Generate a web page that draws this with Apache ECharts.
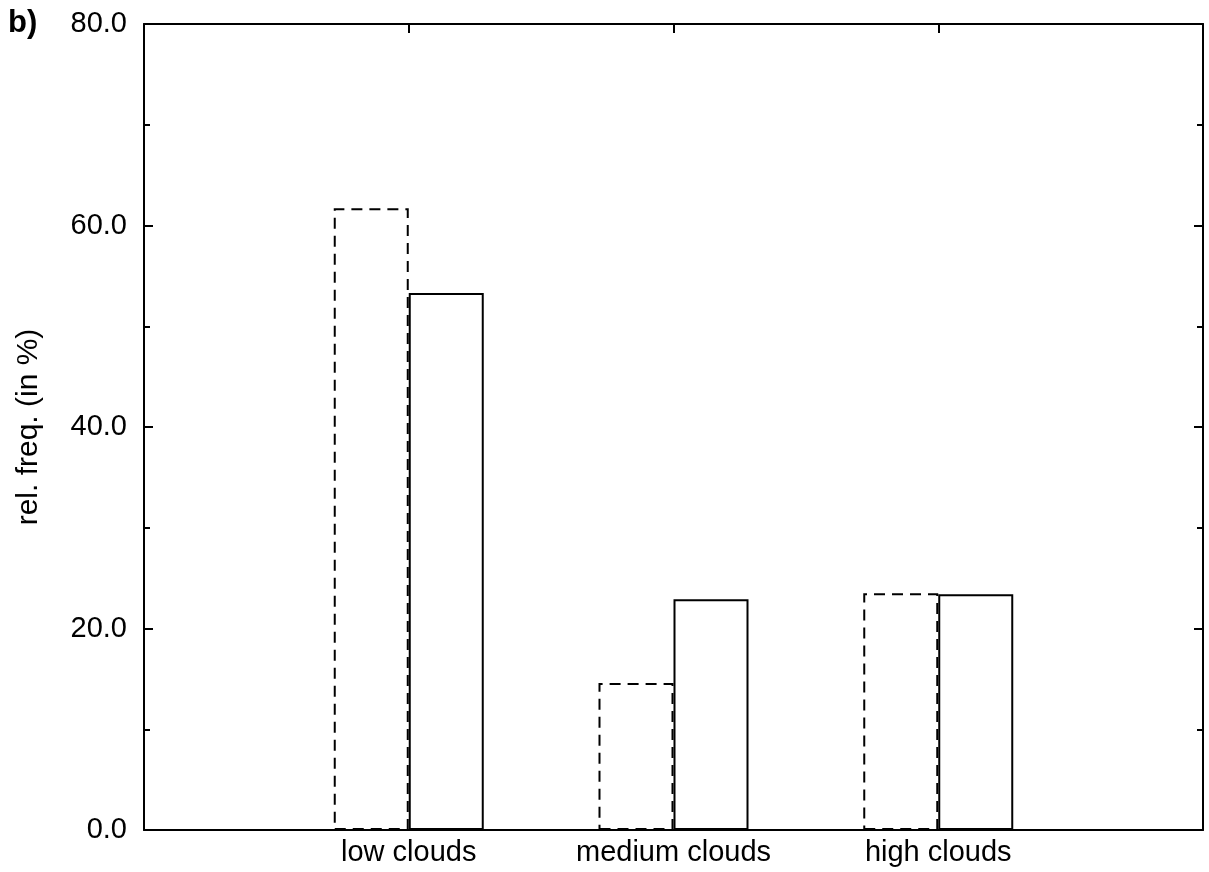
<!DOCTYPE html>
<html>
<head>
<meta charset="utf-8">
<script src="https://cdn.jsdelivr.net/npm/echarts@6/dist/echarts.min.js"></script>
<style>
html, body { margin: 0; padding: 0; background: #fff; }
#chart { width: 1209px; height: 872px; }
</style>
</head>
<body>
<div id="chart"></div>
<script>
// categories: empty slots at both ends so the three groups sit at 1/4, 2/4, 3/4 of the width
var categories = ['', 'low clouds', 'medium clouds', 'high clouds', ''];
var dashedVals = [null, 61.7, 14.6, 23.5, null];
var solidVals = [null, 53.3, 22.9, 23.4, null];
var yTicks = [0, 20, 40, 60, 80];

var font = '"Liberation Sans", Arial, Helvetica, sans-serif';

var myChart = echarts.init(document.getElementById('chart'));

var option = {
    backgroundColor: '#fff',
    animation: false,
    textStyle: { fontFamily: font, color: '#000' },
    graphic: [{
        type: 'text',
        left: 8,
        top: 8,
        style: { text: 'b)', font: 'bold 31px ' + font, fill: '#000' }
    }],
    grid: { left: 144, right: 6, top: 24, bottom: 42 },
    xAxis: [
        {
            type: 'category',
            data: categories,
            boundaryGap: false,
            position: 'bottom',
            axisLine: { onZero: false, lineStyle: { color: '#000', width: 2 } },
            axisTick: { show: false },
            axisLabel: { color: '#000', fontSize: 29, fontFamily: font, margin: 8, interval: 0 },
            splitLine: { show: false }
        },
        {
            type: 'category',
            data: categories,
            boundaryGap: false,
            position: 'top',
            axisLine: { onZero: false, lineStyle: { color: '#000', width: 2 } },
            axisTick: {
                inside: true, length: 9,
                lineStyle: { color: '#000', width: 2 },
                interval: function (idx) { return idx > 0 && idx < categories.length - 1; }
            },
            axisLabel: { show: false },
            splitLine: { show: false }
        }
    ],
    yAxis: [
        {
            type: 'value',
            min: yTicks[0],
            max: yTicks[yTicks.length - 1],
            interval: 20,
            position: 'left',
            name: 'rel. freq. (in %)',
            nameLocation: 'middle',
            nameGap: 100,
            nameTextStyle: { color: '#000', fontSize: 30, fontFamily: font },
            axisLine: { show: true, onZero: false, lineStyle: { color: '#000', width: 2 } },
            axisTick: { show: true, inside: true, length: 9, lineStyle: { color: '#000', width: 2 } },
            minorTick: { show: true, splitNumber: 2, length: 6, lineStyle: { color: '#000', width: 2 } },
            axisLabel: {
                color: '#000', fontSize: 29, fontFamily: font, margin: 17,
                formatter: function (v) { return v.toFixed(1); }
            },
            splitLine: { show: false }
        },
        {
            type: 'value',
            min: yTicks[0],
            max: yTicks[yTicks.length - 1],
            interval: 20,
            position: 'right',
            axisLine: { show: true, onZero: false, lineStyle: { color: '#000', width: 2 } },
            axisTick: { show: true, inside: true, length: 9, lineStyle: { color: '#000', width: 2 } },
            minorTick: { show: true, splitNumber: 2, length: 6, lineStyle: { color: '#000', width: 2 } },
            axisLabel: { show: false },
            splitLine: { show: false }
        }
    ],
    series: [
        {
            type: 'bar',
            data: dashedVals,
            barWidth: 75,
            barGap: '0%',
            itemStyle: {
                color: 'rgba(0,0,0,0)',
                borderColor: '#000',
                borderWidth: 2,
                borderType: [11, 7]
            }
        },
        {
            type: 'bar',
            data: solidVals,
            barWidth: 75,
            barGap: '0%',
            itemStyle: {
                color: 'rgba(0,0,0,0)',
                borderColor: '#000',
                borderWidth: 2
            }
        }
    ]
};

myChart.setOption(option);
</script>
</body>
</html>
